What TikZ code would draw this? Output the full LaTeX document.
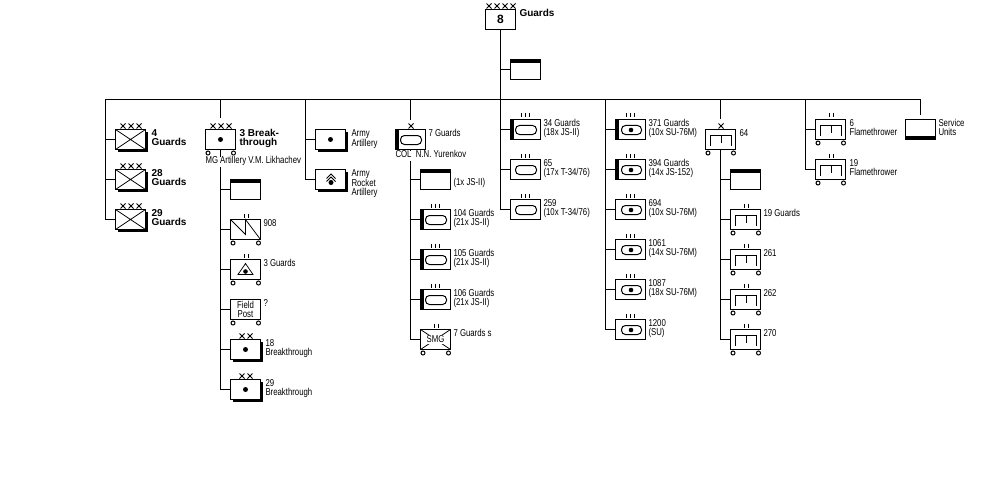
\documentclass[tikz,border=0pt]{standalone}
\usepackage{fontspec}
\setmainfont[FakeStretch=0.78]{Liberation Sans}
\newfontfamily\boldsans{Liberation Sans}
\usetikzlibrary{shadows}

\tikzset{
unit/.style = {draw, fill = white, minimum width = 30pt, minimum height = 20pt, inner sep = 0pt, outer sep = 0pt, anchor = north west},
heavy/.style = {unit, drop shadow = {shadow xshift = 2.5pt, shadow yshift = -2.5pt, fill = black, opacity = 1}},
lbl/.style = {inner sep = 0pt, outer sep = 0pt, anchor = north west, align = left, font = \fontsize{10pt}{9pt}\selectfont},
lblb/.style = {lbl, font = \fontsize{10pt}{9pt}\boldsans\bfseries},
thin tick/.style = {line width = 0.75pt}
}

%% marks over a box
\newcommand{\xmarks}[3]{% node, first x, count
\begin{scope}[shift = {(#1.north west)}]
\foreach \i in {1,...,#3}{
\draw[thin tick] ({#2+8*(\i-1)},-6) -- +(5,5);
\draw[thin tick] ({#2+8*(\i-1)},-1) -- +(5,-5);
}
\end{scope}}
\newcommand{\twobars}[1]{\begin{scope}[shift = {(#1.north west)}]
\draw (14,-6) -- +(0,4) (18,-6) -- +(0,4);
\end{scope}}
\newcommand{\threebars}[1]{\begin{scope}[shift = {(#1.north west)}]
\draw (11,-6) -- +(0,4) (15,-6) -- +(0,4) (19,-6) -- +(0,4);
\end{scope}}

%% things inside a box
\newcommand{\wheels}[1]{\begin{scope}[shift = {(#1.north west)}]
\draw[fill = white] (2.5,23.5) circle (2);
\draw[fill = white] (28,23.5) circle (2);
\end{scope}}
\newcommand{\topbar}[1]{\fill ([yshift = 0.5pt]#1.north west) rectangle ([yshift = -3.5pt]#1.north east);}
\newcommand{\lowbar}[1]{\fill ([yshift = 3.5pt]#1.south west) rectangle ([yshift = -0.5pt]#1.south east);}
\newcommand{\sidebar}[1]{\fill ([xshift = -0.5pt]#1.north west) rectangle ([xshift = 3.5pt]#1.south west);}
\newcommand{\cross}[1]{\draw[thin tick] (#1.north west) -- (#1.south east) (#1.north east) -- (#1.south west);}
\newcommand{\gundot}[1]{\fill (#1.center) circle (2.5);}
\newcommand{\tank}[1]{\begin{scope}[shift = {(#1.north west)}]
\draw[rounded corners = 4pt] (5,6) rectangle (26,15);
\end{scope}}
\newcommand{\selfprop}[1]{\begin{scope}[shift = {(#1.north west)}]
\draw[rounded corners = 4pt] (6,6) rectangle (26,15);
\fill (15.5,10.5) circle (2.3);
\end{scope}}
\newcommand{\flame}[1]{\begin{scope}[shift = {(#1.north west)}]
\draw (5,16) -- (5,6) -- (26,6) -- (26,16);
\draw (15.5,6) -- (15.5,13);
\end{scope}}

\begin{document}
\begin{tikzpicture}[x = 1pt, y = -1pt, line width = 1pt]
\useasboundingbox (-0.5,-0.5) rectangle (999.5,499.5);

\coordinate (b1) at (105,99);
\coordinate (b2) at (220,99);
\coordinate (b3) at (305,99);
\coordinate (b4) at (410,99);
\coordinate (b6) at (605,99);
\coordinate (b7) at (720,99);
\coordinate (b8) at (805,99);
\coordinate (b9) at (920,99);

%% boxes
\node[unit, font = \fontsize{12pt}{12pt}\boldsans\bfseries] (army) at (485,9) {8};
\node[unit] (armyhq) at (510,59) {};

\node[heavy] (c4) at (115,129) {};
\node[heavy] (c28) at (115,169) {};
\node[heavy] (c29) at (115,209) {};

\node[unit] (bt3) at (205,129) {};
\node[unit] (bthq) at (230,179) {};
\node[unit] (bt908) at (230,219) {};
\node[unit] (bt3g) at (230,259) {};
\node[unit, align = center, font = \fontsize{10pt}{9pt}\selectfont] (btpost) at (230,299) {Field\\Post};
\node[heavy] (bt18) at (230,339) {};
\node[heavy] (bt29) at (230,379) {};

\node[heavy] (aart) at (315,129) {};
\node[heavy] (arkt) at (315,169) {};

\node[unit] (tb7) at (395,129) {};
\node[unit] (tbhq) at (420,169) {};
\node[unit] (tr104) at (420,209) {};
\node[unit] (tr105) at (420,249) {};
\node[unit] (tr106) at (420,289) {};
\node[unit] (smg) at (420,329) {};

\node[unit] (tr34) at (510,119) {};
\node[unit] (tr65) at (510,159) {};
\node[unit] (tr259) at (510,199) {};

\node[unit] (sp371) at (615,119) {};
\node[unit] (sp394) at (615,159) {};
\node[unit] (sp694) at (615,199) {};
\node[unit] (sp1061) at (615,239) {};
\node[unit] (sp1087) at (615,279) {};
\node[unit] (sp1200) at (615,319) {};

\node[unit] (fb64) at (705,129) {};
\node[unit] (fbhq) at (730,169) {};
\node[unit] (fb19g) at (730,209) {};
\node[unit] (fb261) at (730,249) {};
\node[unit] (fb262) at (730,289) {};
\node[unit] (fb270) at (730,329) {};

\node[unit] (fl6) at (815,119) {};
\node[unit] (fl19) at (815,159) {};

\node[unit] (svc) at (905,119) {};

%% connectors
\draw (b1) -- (b9);
\draw (army.south) |- (armyhq.west);
\draw (army.south) |- (tr34.west);
\draw (army.south) |- (tr65.west);
\draw (army.south) |- (tr259.west);
\draw (b1) |- (c4.west);
\draw (b1) |- (c28.west);
\draw (b1) |- (c29.west);
\draw[shorten > = 11pt] (b2) -- (bt3.north);
\draw (bt3.south) |- (bthq.west);
\draw (bt3.south) |- (bt908.west);
\draw (bt3.south) |- (bt3g.west);
\draw (bt3.south) |- (btpost.west);
\draw (bt3.south) |- (bt18.west);
\draw (bt3.south) |- (bt29.west);
\draw (b3) |- (aart.west);
\draw (b3) |- (arkt.west);
\draw[shorten > = 9pt] (b4) -- (tb7.north);
\draw (tb7.south) |- (tbhq.west);
\draw (tb7.south) |- (tr104.west);
\draw (tb7.south) |- (tr105.west);
\draw (tb7.south) |- (tr106.west);
\draw (tb7.south) |- (smg.west);
\draw (b6) |- (sp371.west);
\draw (b6) |- (sp394.west);
\draw (b6) |- (sp694.west);
\draw (b6) |- (sp1061.west);
\draw (b6) |- (sp1087.west);
\draw (b6) |- (sp1200.west);
\draw[shorten > = 10pt] (b7) -- (fb64.north);
\draw (fb64.south) |- (fbhq.west);
\draw (fb64.south) |- (fb19g.west);
\draw (fb64.south) |- (fb261.west);
\draw (fb64.south) |- (fb262.west);
\draw (fb64.south) |- (fb270.west);
\draw (b8) |- (fl6.west);
\draw (b8) |- (fl19.west);
\draw[shorten > = 4pt] (b9) -- (svc.north);

%% symbols
\xmarks{army}{1}{4}
\topbar{armyhq}
\xmarks{c4}{5}{3} \cross{c4}
\xmarks{c28}{5}{3} \cross{c28}
\xmarks{c29}{5}{3} \cross{c29}

\xmarks{bt3}{5}{3} \gundot{bt3} \wheels{bt3}
\topbar{bthq}
\twobars{bt908} \wheels{bt908}
\begin{scope}[shift = {(bt908.north west)}]
\draw[thin tick] (0,0) -- (15,15) -- (15,0) -- (30,20);
\end{scope}
\twobars{bt3g} \wheels{bt3g}
\begin{scope}[shift = {(bt3g.north west)}]
\draw[thin tick] (15,4) -- (7.5,15) -- (22.5,15) -- cycle;
\fill (15,12) circle (2.3);
\end{scope}
\wheels{btpost}
\xmarks{bt18}{9}{2} \gundot{bt18}
\xmarks{bt29}{9}{2} \gundot{bt29}

\gundot{aart}
\begin{scope}[shift = {(arkt.north west)}]
\fill (15.5,13) circle (2.5);
\draw[thin tick] (11,9) -- (15.5,4.5) -- (20,9);
\draw[thin tick] (11,12) -- (15.5,7.5) -- (20,12);
\end{scope}

\xmarks{tb7}{13}{1} \sidebar{tb7} \tank{tb7}
\topbar{tbhq}
\threebars{tr104} \sidebar{tr104} \tank{tr104}
\threebars{tr105} \sidebar{tr105} \tank{tr105}
\threebars{tr106} \sidebar{tr106} \tank{tr106}
\twobars{smg} \cross{smg} \wheels{smg}
\node[fill = white, inner sep = 1pt, font = \fontsize{10pt}{9pt}\selectfont] (smgtext) at (smg.center) {SMG};

\threebars{tr34} \sidebar{tr34} \tank{tr34}
\threebars{tr65} \tank{tr65}
\threebars{tr259} \tank{tr259}

\threebars{sp371} \sidebar{sp371} \selfprop{sp371}
\threebars{sp394} \sidebar{sp394} \selfprop{sp394}
\threebars{sp694} \selfprop{sp694}
\threebars{sp1061} \selfprop{sp1061}
\threebars{sp1087} \selfprop{sp1087}
\threebars{sp1200} \selfprop{sp1200}

\xmarks{fb64}{13}{1} \flame{fb64} \wheels{fb64}
\topbar{fbhq}
\twobars{fb19g} \flame{fb19g} \wheels{fb19g}
\twobars{fb261} \flame{fb261} \wheels{fb261}
\twobars{fb262} \flame{fb262} \wheels{fb262}
\twobars{fb270} \flame{fb270} \wheels{fb270}
\twobars{fl6} \flame{fl6} \wheels{fl6}
\twobars{fl19} \flame{fl19} \wheels{fl19}
\lowbar{svc}

%% labels
\node[lblb] (larmy) at ([shift = {(4,0)}]army.north east) {\rule{0pt}{7pt}Guards};
\node[lblb] (lc4) at ([shift = {(6,0)}]c4.north east) {\rule{0pt}{7pt}4\\Guards};
\node[lblb] (lc28) at ([shift = {(6,0)}]c28.north east) {\rule{0pt}{7pt}28\\Guards};
\node[lblb] (lc29) at ([shift = {(6,0)}]c29.north east) {\rule{0pt}{7pt}29\\Guards};
\node[lblb] (lbt3) at ([shift = {(4,0)}]bt3.north east) {\rule{0pt}{7pt}3 Break-\\through};
\node[lbl, fill = white] (lbtc) at ([shift = {(0,7)}]bt3.south west) {\rule[-3pt]{0pt}{9pt}MG Artillery V.M. Likhachev};
\node[lbl] (lb908) at ([shift = {(3,0)}]bt908.north east) {\rule{0pt}{7pt}908};
\node[lbl] (lb3g) at ([shift = {(3,0)}]bt3g.north east) {\rule{0pt}{7pt}3 Guards};
\node[lbl] (lbpost) at ([shift = {(3,0)}]btpost.north east) {\rule{0pt}{7pt}?};
\node[lbl] (lb18) at ([shift = {(5,0)}]bt18.north east) {\rule{0pt}{7pt}18\\Breakthrough};
\node[lbl] (lb29) at ([shift = {(5,0)}]bt29.north east) {\rule{0pt}{7pt}29\\Breakthrough};
\node[lbl] (laart) at ([shift = {(6,0)}]aart.north east) {\rule{0pt}{7pt}Army\\Artillery};
\node[lbl] (larkt) at ([shift = {(6,0)}]arkt.north east) {\rule{0pt}{7pt}Army\\Rocket\\Artillery};
\node[lbl] (ltb7) at ([shift = {(3,0)}]tb7.north east) {\rule{0pt}{7pt}7 Guards};
\node[lbl, fill = white] (ltbc) at ([shift = {(0,1)}]tb7.south west) {\rule[-3pt]{0pt}{10pt}COL\ \ N.N. Yurenkov};
\node[lbl] (ltbhq) at ([shift = {(3,9)}]tbhq.north east) {\rule{0pt}{7pt}(1x JS-II)};
\node[lbl] (ltr104) at ([shift = {(3,0)}]tr104.north east) {\rule{0pt}{7pt}104 Guards\\(21x JS-II)};
\node[lbl] (ltr105) at ([shift = {(3,0)}]tr105.north east) {\rule{0pt}{7pt}105 Guards\\(21x JS-II)};
\node[lbl] (ltr106) at ([shift = {(3,0)}]tr106.north east) {\rule{0pt}{7pt}106 Guards\\(21x JS-II)};
\node[lbl] (lsmg) at ([shift = {(3,0)}]smg.north east) {\rule{0pt}{7pt}7 Guards s};
\node[lbl] (ltr34) at ([shift = {(3,0)}]tr34.north east) {\rule{0pt}{7pt}34 Guards\\(18x JS-II)};
\node[lbl] (ltr65) at ([shift = {(3,0)}]tr65.north east) {\rule{0pt}{7pt}65\\(17x T-34/76)};
\node[lbl] (ltr259) at ([shift = {(3,0)}]tr259.north east) {\rule{0pt}{7pt}259\\(10x T-34/76)};
\node[lbl] (lsp371) at ([shift = {(3,0)}]sp371.north east) {\rule{0pt}{7pt}371 Guards\\(10x SU-76M)};
\node[lbl] (lsp394) at ([shift = {(3,0)}]sp394.north east) {\rule{0pt}{7pt}394 Guards\\(14x JS-152)};
\node[lbl] (lsp694) at ([shift = {(3,0)}]sp694.north east) {\rule{0pt}{7pt}694\\(10x SU-76M)};
\node[lbl] (lsp1061) at ([shift = {(3,0)}]sp1061.north east) {\rule{0pt}{7pt}1061\\(14x SU-76M)};
\node[lbl] (lsp1087) at ([shift = {(3,0)}]sp1087.north east) {\rule{0pt}{7pt}1087\\(18x SU-76M)};
\node[lbl] (lsp1200) at ([shift = {(3,0)}]sp1200.north east) {\rule{0pt}{7pt}1200\\(SU)};
\node[lbl] (lfb64) at ([shift = {(4,0)}]fb64.north east) {\rule{0pt}{7pt}64};
\node[lbl] (lfb19g) at ([shift = {(3,0)}]fb19g.north east) {\rule{0pt}{7pt}19 Guards};
\node[lbl] (lfb261) at ([shift = {(3,0)}]fb261.north east) {\rule{0pt}{7pt}261};
\node[lbl] (lfb262) at ([shift = {(3,0)}]fb262.north east) {\rule{0pt}{7pt}262};
\node[lbl] (lfb270) at ([shift = {(3,0)}]fb270.north east) {\rule{0pt}{7pt}270};
\node[lbl] (lfl6) at ([shift = {(4,0)}]fl6.north east) {\rule{0pt}{7pt}6\\Flamethrower};
\node[lbl] (lfl19) at ([shift = {(4,0)}]fl19.north east) {\rule{0pt}{7pt}19\\Flamethrower};
\node[lbl] (lsvc) at ([shift = {(3,0)}]svc.north east) {\rule{0pt}{7pt}Service\\Units};

\end{tikzpicture}
\end{document}
